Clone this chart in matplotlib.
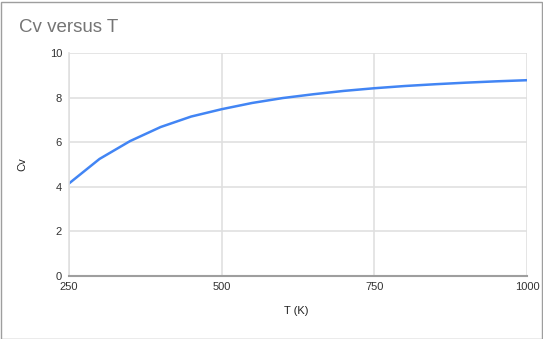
import matplotlib
matplotlib.use("Agg")
import matplotlib.pyplot as plt
from matplotlib.patches import Rectangle

plt.rcParams["font.family"] = ["Liberation Sans", "DejaVu Sans"]

# values
temps = [250, 300, 350, 400, 450, 500, 550, 600, 650, 700, 750, 800, 850, 900, 950, 1000]
cv = [4.15, 5.25, 6.05, 6.68, 7.15, 7.48, 7.76, 7.98, 8.15, 8.30, 8.42, 8.52, 8.60, 8.67, 8.73, 8.78]
x_ticks = [250, 500, 750, 1000]
y_ticks = [0, 2, 4, 6, 8, 10]

W, H, DPI = 543, 339, 100
fig = plt.figure(figsize=(W / DPI, H / DPI), dpi=DPI)
ax = fig.add_axes([69 / W, 1 - 276 / H, (527 - 69) / W, (276 - 53) / H])

ax.plot(temps, cv, color="#4285F4", lw=1.8, solid_joinstyle="round")

ax.set_xlim(250, 1000)
ax.set_ylim(0, 10)
ax.set_xticks(x_ticks)
ax.set_yticks(y_ticks)
ax.grid(True, color="#e0e0e0", lw=1.2)
ax.set_axisbelow(True)
ax.tick_params(length=0, labelsize=8, labelcolor="#333333")
ax.tick_params(axis="y", pad=5)
ax.tick_params(axis="x", pad=4)
for s in ("top", "right"):
    ax.spines[s].set_visible(False)
ax.spines["left"].set_color("#e0e0e0")
ax.spines["left"].set_linewidth(1.2)
ax.spines["bottom"].set_color("#9e9e9e")
ax.spines["bottom"].set_linewidth(1.5)

ax.set_xlabel("T (K)", fontsize=8, color="#222222")
ax.set_ylabel("Cv", fontsize=8, color="#222222")
ax.xaxis.set_label_coords((296 - 69) / 458, -(311 - 276) / 223)
ax.yaxis.set_label_coords(-(69 - 22) / 458, (276 - 164) / 223)
ax.xaxis.label.set_va("center")
ax.yaxis.label.set_va("center")

fig.text(19 / W, 1 - 27 / H, "Cv versus T", fontsize=13.5, color="#757575",
         va="center", ha="left")

# outer frame
fig.patches.append(Rectangle((0.5 / W, 0.5 / H), (W - 2) / W, (H - 2) / H,
                             transform=fig.transFigure, fill=False,
                             edgecolor="#9e9e9e", lw=1))

fig.savefig("out.png", dpi=DPI)
